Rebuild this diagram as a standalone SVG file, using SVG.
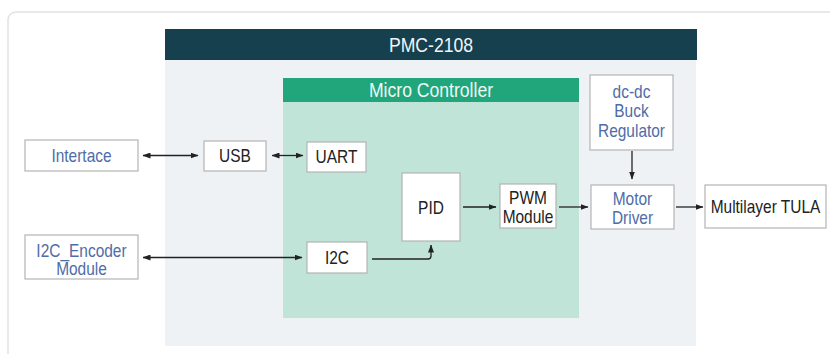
<svg xmlns="http://www.w3.org/2000/svg" width="830" height="354" viewBox="0 0 830 354">
  <defs>
    <marker id="arrow" viewBox="0 0 8 6" refX="7.5" refY="3" markerWidth="8" markerHeight="6" markerUnits="userSpaceOnUse" orient="auto-start-reverse">
      <path d="M0,0 L8,3 L0,6 z" fill="#222"/>
    </marker>
    <style>
      .card { fill: #ffffff; stroke: #e2e2e2; stroke-width: 1.5; }
      .band { fill: #17404f; }
      .panel { fill: #eef2f5; }
      .mcu-head { fill: #20a67a; }
      .mcu-body { fill: #c1e4d8; }
      .box { fill: #ffffff; stroke: #b4b4b4; stroke-width: 1.2; }
      text { font-family: "Liberation Sans", Arial, sans-serif; font-size: 18px; text-anchor: middle; }
      .dark { fill: #222222; }
      .blue { fill: #4f6ca8; }
      .head { fill: #f2f6f7; font-size: 20px; }
      .wire { fill: none; stroke: #222; stroke-width: 1.3; }
    </style>
  </defs>

  <!-- page card -->
  <rect class="card" x="8" y="12" width="840" height="360" rx="8"/>

  <!-- PMC-2108 board -->
  <g id="pmc-2108">
    <rect class="panel" x="165" y="60" width="531" height="286"/>
    <rect class="band" x="165" y="29" width="532" height="31"/>
    <text class="head" transform="translate(431,52) scale(0.88,1)">PMC-2108</text>
  </g>

  <!-- Micro Controller region -->
  <g id="micro-controller">
    <rect class="mcu-body" x="283" y="102" width="296" height="216"/>
    <rect class="mcu-head" x="283" y="78" width="296" height="24"/>
    <text class="head" transform="translate(431,96.5) scale(0.88,1)">Micro Controller</text>
  </g>

  <g id="interface">
    <rect class="box" x="25" y="140" width="113" height="31"/>
    <text class="blue" transform="translate(81.5,161.5) scale(0.86,1)">Intertace</text>
  </g>

  <g id="usb">
    <rect class="box" x="204" y="141" width="62" height="30"/>
    <text class="dark" transform="translate(235,161.5) scale(0.86,1)">USB</text>
  </g>

  <g id="uart">
    <rect class="box" x="307" y="142" width="59" height="30"/>
    <text class="dark" transform="translate(336.5,163) scale(0.86,1)">UART</text>
  </g>

  <g id="pid">
    <rect class="box" x="402" y="173" width="58" height="68"/>
    <text class="dark" transform="translate(431,214) scale(0.86,1)">PID</text>
  </g>

  <g id="pwm-module">
    <rect class="box" x="500" y="184" width="56" height="44"/>
    <text class="dark" transform="translate(528,203.5) scale(0.86,1)"><tspan x="0" y="0">PWM</tspan><tspan x="0" y="19.5">Module</tspan></text>
  </g>

  <g id="dc-dc-buck-regulator">
    <rect class="box" x="590" y="75" width="83" height="75"/>
    <text class="blue" transform="translate(631.5,98) scale(0.86,1)"><tspan x="0" y="0">dc-dc</tspan><tspan x="0" y="19.5">Buck</tspan><tspan x="0" y="39">Regulator</tspan></text>
  </g>

  <g id="motor-driver">
    <rect class="box" x="591" y="185" width="83" height="44"/>
    <text class="blue" transform="translate(632.5,205) scale(0.86,1)"><tspan x="0" y="0">Motor</tspan><tspan x="0" y="19.5">Driver</tspan></text>
  </g>

  <g id="multilayer-tula">
    <rect class="box" x="705" y="185" width="121" height="43"/>
    <text class="dark" transform="translate(765.5,213) scale(0.86,1)">Multilayer TULA</text>
  </g>

  <g id="i2c-encoder-module">
    <rect class="box" x="25" y="235" width="113" height="44"/>
    <text class="blue" transform="translate(81.5,256.5) scale(0.86,1)"><tspan x="0" y="0">I2C_Encoder</tspan><tspan x="0" y="18.5">Module</tspan></text>
  </g>

  <g id="i2c">
    <rect class="box" x="307" y="242" width="60" height="31"/>
    <text class="dark" transform="translate(337,264) scale(0.86,1)">I2C</text>
  </g>

  <!-- connectors -->
  <g id="connectors">
    <path class="wire" d="M143,155.5 H198" marker-start="url(#arrow)" marker-end="url(#arrow)"/>
    <path class="wire" d="M272,155.5 H303" marker-start="url(#arrow)" marker-end="url(#arrow)"/>
    <path class="wire" d="M143,257.5 H302" marker-start="url(#arrow)" marker-end="url(#arrow)"/>
    <path class="wire" d="M372,259 H428 Q431,259 431,256 V245" marker-end="url(#arrow)"/>
    <path class="wire" d="M463,207 H496" marker-end="url(#arrow)"/>
    <path class="wire" d="M559,207 H588" marker-end="url(#arrow)"/>
    <path class="wire" d="M676,207 H703" marker-end="url(#arrow)"/>
    <path class="wire" d="M632,151 V179" marker-end="url(#arrow)"/>
  </g>
</svg>
